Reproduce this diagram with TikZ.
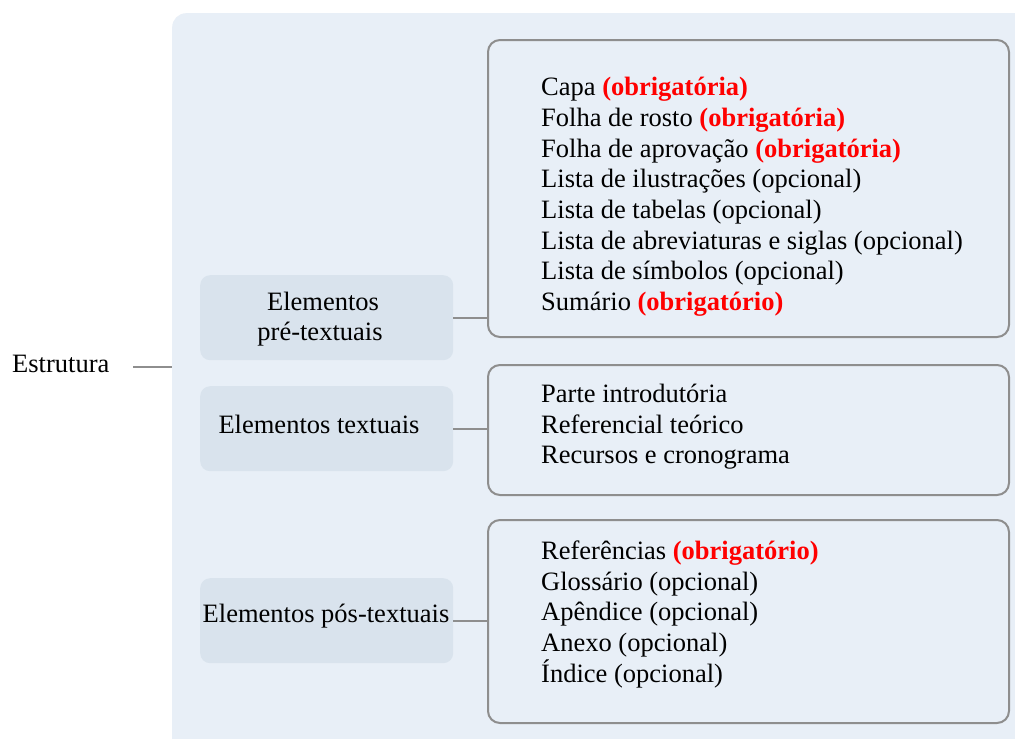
\documentclass[tikz,border=0pt]{standalone}
\usepackage{fontspec}
\setmainfont{Liberation Serif}
\definecolor{bgcol}{HTML}{E8EFF7}
\definecolor{boxcol}{HTML}{D9E3ED}
\definecolor{linecol}{HTML}{8E8E8E}
\definecolor{obr}{HTML}{FF0000}
\newcommand{\obrig}[1]{\textcolor{obr}{\textbf{#1}}}
\tikzset{
  bgbox/.style={fill=bgcol, draw=none, rounded corners=14pt, inner sep=0pt},
  catbox/.style={fill=boxcol, draw=none, rounded corners=10pt, inner sep=0pt, minimum width=253pt, minimum height=85pt},
  listbox/.style={draw=linecol, line width=2pt, rounded corners=12pt, inner sep=0pt, minimum width=521pt},
  conn/.style={draw=linecol, line width=2pt},
  txt/.style={inner sep=0pt, font=\fontsize{26.5}{30.7}\selectfont},
  item/.style={txt, anchor=base west},
  cattxt/.style={txt, anchor=base},
}
\begin{document}
\begin{tikzpicture}[x=1pt,y=-1pt]
\useasboundingbox (0,0) rectangle (1015,739);
\fill[white] (0,0) rectangle (1015,739);
% background panel
\node[bgbox, anchor=north west, minimum width=880pt, minimum height=780pt] (bg) at (172,13) {};
% root
\node[txt, anchor=base west] (estr) at (12,372) {Estrutura};
\coordinate (estrEnd) at (133,366.7);
\draw[conn] (estrEnd) -- (estrEnd -| bg.west);
% category boxes
\node[catbox, anchor=north west] (pre) at (200,275) {};
\node[catbox, anchor=north west] (tex) at (200,386) {};
\node[catbox, anchor=north west] (pos) at (200,578) {};
\node[cattxt] (preA) at (323,310) {Elementos};
\node[cattxt] (preB) at (320,340.5) {pré-textuais};
\node[cattxt] (texA) at (319,433) {Elementos textuais};
\node[cattxt] (posA) at (326,622) {Elementos pós-textuais};
% list boxes
\node[listbox, anchor=north west, minimum height=297pt] (preR) at (487,39) {};
\node[listbox, anchor=north west, minimum height=130pt] (texR) at (487,364) {};
\node[listbox, anchor=north west, minimum height=203pt] (posR) at (487,519) {};
% connectors
\draw[conn] (pre.east) -- (pre.east -| preR.west);
\draw[conn] (tex.east) -- (tex.east -| texR.west);
\draw[conn] (pos.east) -- (pos.east -| posR.west);
% pre-textual items
\node[item] (p1) at (541,95.7) {Capa \obrig{(obrigatória)}};
\node[item] (p2) at (541,126.4) {Folha de rosto \obrig{(obrigatória)}};
\node[item] (p3) at (541,157.1) {Folha de aprovação \obrig{(obrigatória)}};
\node[item] (p4) at (541,187.8) {Lista de ilustrações (opcional)};
\node[item] (p5) at (541,218.5) {Lista de tabelas (opcional)};
\node[item] (p6) at (541,249.2) {Lista de abreviaturas e siglas (opcional)};
\node[item] (p7) at (541,279.9) {Lista de símbolos (opcional)};
\node[item] (p8) at (541,310.6) {Sumário \obrig{(obrigatório)}};
% textual items
\node[item] (t1) at (541,402.5) {Parte introdutória};
\node[item] (t2) at (541,433.2) {Referencial teórico};
\node[item] (t3) at (541,463.9) {Recursos e cronograma};
% post-textual items
\node[item] (q1) at (541,559.5) {Referências \obrig{(obrigatório)}};
\node[item] (q2) at (541,590.2) {Glossário (opcional)};
\node[item] (q3) at (541,620.9) {Apêndice (opcional)};
\node[item] (q4) at (541,651.6) {Anexo (opcional)};
\node[item] (q5) at (541,682.3) {Índice (opcional)};
\end{tikzpicture}
\end{document}
